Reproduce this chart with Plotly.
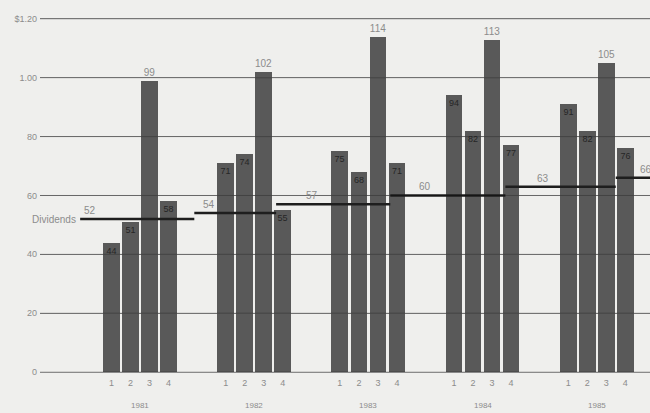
import plotly.graph_objects as go

# Quarterly earnings per share (cents) and the dividend rate in force
years = ["1981", "1982", "1983", "1984", "1985"]
quarters = ["1", "2", "3", "4"]
earnings_1981 = [44, 51, 99, 58]
earnings_1982 = [71, 74, 102, 55]
earnings_1983 = [75, 68, 114, 71]
earnings_1984 = [94, 82, 113, 77]
earnings_1985 = [91, 82, 105, 76]
earnings = [earnings_1981, earnings_1982, earnings_1983, earnings_1984, earnings_1985]

dividends = [52, 54, 57, 60, 63, 66]
# Periods (on the quarter axis) over which each dividend rate applied
div_start = [-0.65, 5.35, 9.65, 15.65, 21.7, 27.5]
div_end = [5.35, 9.65, 15.65, 21.7, 27.5, 31.0]

y_tick_vals = [0, 20, 40, 60, 80, 100, 120]
y_tick_text = ["0", "20", "40", "60", "80", "1.00", "$1.20"]

BG = "#efefed"
BAR = "#595959"
GRID = "#8a8a8a"
TEXT = "#8c8c8c"
FONT = "Liberation Sans"
X_RANGE = [-2.76, 29.3]

# Each year occupies six slots: four quarter bars plus a two-slot gap
xs, ys, labels, positions, ticks, ticktext = [], [], [], [], [], []
for i, vals in enumerate(earnings):
    for q, v in enumerate(vals):
        x = 6 * i + q + 1
        xs.append(x)
        ys.append(v)
        labels.append(str(v))
        positions.append("outside" if v >= 99 else "inside")
        ticks.append(x)
        ticktext.append(quarters[q])

fig = go.Figure()
fig.add_trace(go.Bar(
    x=xs, y=ys, width=0.88,
    marker=dict(color=BAR, line=dict(width=0)),
    text=labels, textposition=positions, textangle=0,
    constraintext="none",
    insidetextanchor="end",
    insidetextfont=dict(color="#262626", size=9, family=FONT),
    outsidetextfont=dict(color=TEXT, size=10, family=FONT),
    cliponaxis=False, hoverinfo="skip",
))

# Rules printed over the bars as well
for v in y_tick_vals:
    fig.add_shape(
        type="line", xref="paper", x0=0, x1=1, y0=v, y1=v,
        line=dict(color="rgba(0,0,0,0.25)", width=1), layer="above",
    )

# Dividend rate steps
for d, s, e in zip(dividends, div_start, div_end):
    fig.add_trace(go.Scatter(
        x=[s, e], y=[d, d], mode="lines",
        line=dict(color="#1e1e1e", width=2.5),
        hoverinfo="skip", showlegend=False,
    ))

label_offsets = [0.5, 0.75, 1.9, 1.85, 2.0, 1.6]
for d, s, off in zip(dividends, div_start, label_offsets):
    fig.add_annotation(
        x=s + off, y=d, text=str(d), showarrow=False,
        yanchor="bottom", yshift=1,
        font=dict(color=TEXT, size=10, family=FONT),
    )

fig.add_annotation(
    x=div_start[0], y=dividends[0], text="Dividends", showarrow=False,
    xanchor="right", yanchor="middle", xshift=-2,
    font=dict(color=TEXT, size=10, family=FONT),
)

for i, yr in enumerate(years):
    fig.add_annotation(
        x=6 * i + 2.5, y=-0.095, yref="paper", text=yr, showarrow=False,
        yanchor="middle",
        font=dict(color=TEXT, size=8, family=FONT),
    )

fig.update_layout(
    width=650, height=413,
    margin=dict(l=40, r=0, t=16, b=41),
    paper_bgcolor=BG, plot_bgcolor=BG,
    showlegend=False, bargap=0,
    xaxis=dict(
        range=X_RANGE, tickvals=ticks, ticktext=ticktext,
        showgrid=False, zeroline=False, showline=False, ticks="",
        ticklabelstandoff=4,
        tickfont=dict(color=TEXT, size=9, family=FONT),
    ),
    yaxis=dict(
        range=[0, 121], tickvals=y_tick_vals, ticktext=y_tick_text,
        showgrid=True, gridcolor=GRID, gridwidth=1,
        zeroline=True, zerolinecolor=GRID, zerolinewidth=1,
        showline=False, ticks="", ticklabelstandoff=2,
        tickfont=dict(color=TEXT, size=9, family=FONT),
    ),
)

fig.write_html("out.html")
